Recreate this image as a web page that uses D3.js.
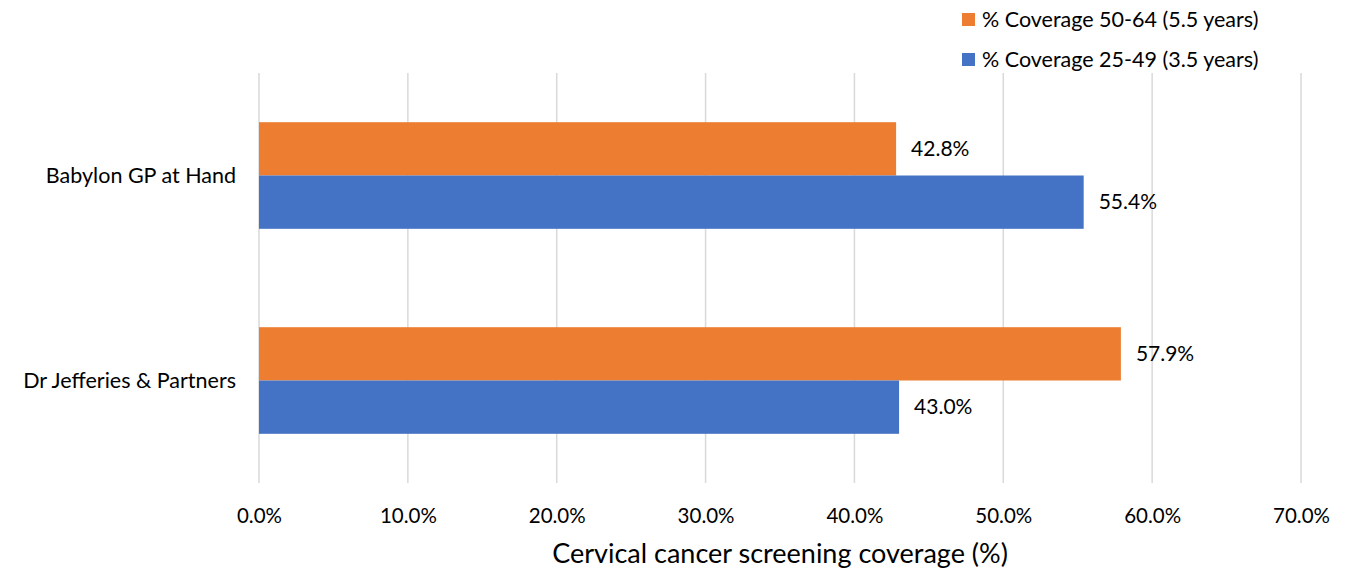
<!DOCTYPE html>
<html>
<head>
<meta charset="utf-8">
<script src="https://cdn.jsdelivr.net/npm/d3@7"></script>
<style>
html,body{margin:0;padding:0;background:#fff;}
svg text{font-family:Lato,"Open Sans",sans-serif;fill:#000;}
</style>
</head>
<body>
<svg id="chart" width="1363" height="569"></svg>
<script>
const categories = ["Babylon GP at Hand", "Dr Jefferies & Partners"];
const seriesNames = ["% Coverage 50-64 (5.5 years)", "% Coverage 25-49 (3.5 years)"];
const coverage5064 = [42.8, 57.9];
const coverage2549 = [55.4, 43.0];
const xTicks = [0, 10, 20, 30, 40, 50, 60, 70];
const colors = ["#ED7D31", "#4472C4"];

const svg = d3.select("#chart");
const margin = {left: 259, right: 62, top: 73, bottom: 86};
const W = 1363, H = 569;

const x = d3.scaleLinear().domain([0, 70]).range([margin.left, W - margin.right]);
const y0 = d3.scaleBand().domain(categories).range([margin.top, H - margin.bottom])
  .paddingInner(0.48).paddingOuter(0.24);
const y1 = d3.scaleBand().domain(seriesNames).range([0, y0.bandwidth()]);

// gridlines
svg.append("g").selectAll("line").data(xTicks).join("line")
  .attr("x1", d => x(d)).attr("x2", d => x(d))
  .attr("y1", margin.top).attr("y2", H - margin.bottom)
  .attr("stroke", "#d9d9d9").attr("stroke-width", 1.5);

const rows = categories.map((c, i) => ({cat: c, vals: [coverage5064[i], coverage2549[i]]}));

const g = svg.append("g").selectAll("g").data(rows).join("g")
  .attr("transform", d => `translate(0,${y0(d.cat)})`);

g.selectAll("rect").data(d => d.vals.map((v, j) => ({v, s: seriesNames[j], j})))
  .join("rect")
  .attr("x", x(0)).attr("y", d => y1(d.s))
  .attr("width", d => x(d.v) - x(0)).attr("height", y1.bandwidth())
  .attr("fill", d => colors[d.j]);

g.selectAll("text.val").data(d => d.vals.map((v, j) => ({v, s: seriesNames[j], j})))
  .join("text").attr("class", "val")
  .attr("x", d => x(d.v) + 15).attr("y", d => y1(d.s) + y1.bandwidth() / 2)
  .attr("dy", "0.35em").attr("font-size", 21)
  .text(d => d3.format(".1f")(d.v) + "%");

// category labels
svg.append("g").selectAll("text").data(categories).join("text")
  .attr("x", 236).attr("y", d => y0(d) + y0.bandwidth() / 2)
  .attr("dy", "0.35em").attr("text-anchor", "end").attr("font-size", 21.5)
  .text(d => d);

// x axis
const xAxis = d3.axisBottom(x).tickValues(xTicks).tickSize(0).tickPadding(0)
  .tickFormat(d => d3.format(".1f")(d) + "%");
const ax = svg.append("g").attr("transform", `translate(0,${H - margin.bottom})`).call(xAxis);
ax.select(".domain").remove();
ax.selectAll("text").attr("font-size", 20.5).attr("font-family", "Lato, 'Open Sans', sans-serif")
  .attr("fill", "#000").attr("y", 40).attr("dy", 0);

svg.append("text").attr("x", (x(0) + x(70)) / 2).attr("y", 563)
  .attr("text-anchor", "middle").attr("font-size", 27)
  .text("Cervical cancer screening coverage (%)");

// legend
const leg = svg.append("g").selectAll("g").data(seriesNames).join("g")
  .attr("transform", (d, i) => `translate(962,${13 + i * 40})`);
leg.append("rect").attr("width", 13).attr("height", 13).attr("fill", (d, i) => colors[i]);
leg.append("text").attr("x", 20).attr("y", 14).attr("font-size", 21.5).text(d => d);
</script>
</body>
</html>
